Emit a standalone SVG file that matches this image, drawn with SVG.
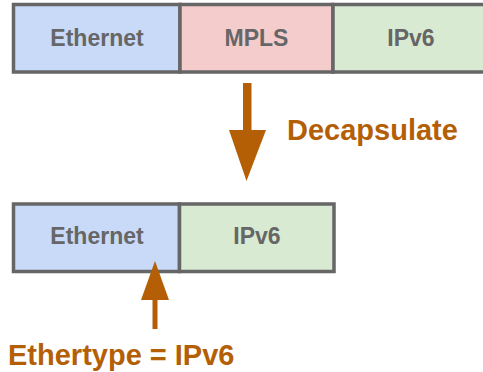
<svg xmlns="http://www.w3.org/2000/svg" width="483" height="372" viewBox="0 0 483 372">
  <style>
    .cell { stroke: #666666; stroke-width: 3.5; }
    .eth { fill: #c9daf8; }
    .mpls { fill: #f4cccc; }
    .ip { fill: #d9ead3; }
    .lbl { font-family: "Liberation Sans", Arial, sans-serif; font-weight: bold; font-size: 23px; fill: #666666; text-anchor: middle; }
    .note { font-family: "Liberation Sans", Arial, sans-serif; font-weight: bold; font-size: 29px; fill: #b45f06; }
    .arrow { fill: #b45f06; }
  </style>
  <rect width="483" height="372" fill="#ffffff"/>

  <!-- encapsulated frame: Ethernet | MPLS | IPv6 -->
  <g id="top-ethernet">
    <rect class="cell eth" x="13.5" y="4.5" width="166.5" height="67.5"/>
    <text class="lbl" x="97" y="46">Ethernet</text>
  </g>
  <g id="top-mpls">
    <rect class="cell mpls" x="180" y="4.5" width="153" height="67.5"/>
    <text class="lbl" x="256.5" y="46">MPLS</text>
  </g>
  <g id="top-ipv6">
    <rect class="cell ip" x="333" y="4.5" width="160" height="67.5"/>
    <text class="lbl" x="411" y="46">IPv6</text>
  </g>

  <!-- decapsulated frame: Ethernet | IPv6 -->
  <g id="bottom-ethernet">
    <rect class="cell eth" x="13.5" y="204" width="166" height="67.5"/>
    <text class="lbl" x="97" y="244">Ethernet</text>
  </g>
  <g id="bottom-ipv6">
    <rect class="cell ip" x="179.5" y="204" width="154.5" height="67.5"/>
    <text class="lbl" x="257" y="244">IPv6</text>
  </g>

  <!-- arrows -->
  <g id="connectors">
    <path class="arrow" d="M243,83 H251.5 V130 H266 L246.5,181 L229,130 H243 Z"/>
    <path class="arrow" d="M152.5,329 V300 H141 L155,261 L169,300 H157.5 V329 Z"/>
  </g>

  <g id="labels">
    <text class="note" x="287" y="140">Decapsulate</text>
    <text class="note" x="8" y="365">Ethertype = IPv6</text>
  </g>
</svg>
